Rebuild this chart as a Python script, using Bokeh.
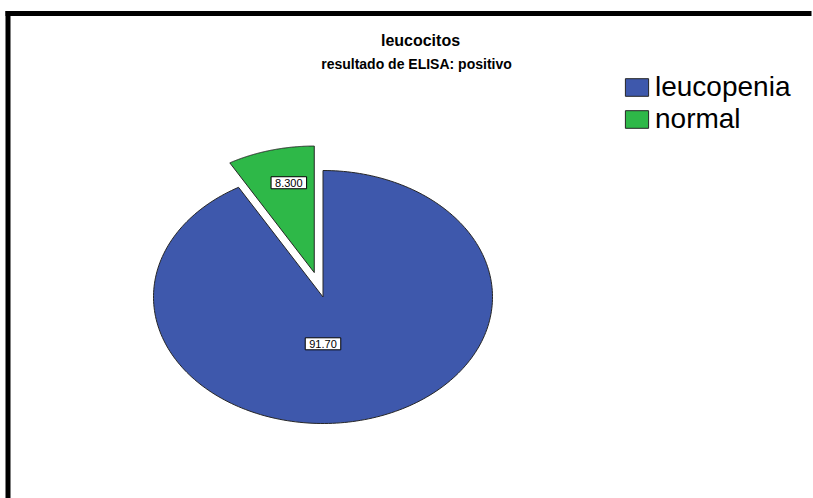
import numpy as np
from bokeh.plotting import figure
from bokeh.models import (ColumnDataSource, Range1d, Legend, LegendItem, Label)
from bokeh.core.properties import value
from bokeh.embed import file_html
from bokeh.resources import INLINE

# ---------------- data ----------------
categories = ["leucopenia", "normal"]
percents = [91.70, 8.30]
value_labels = ["91.70", "8.300"]
colors = ["#3E58AC", "#2EB848"]
explode = [0.0, 0.2]

title_text = "leucocitos"
subtitle_text = "resultado de ELISA: positivo"

# ---------------- layout ----------------
W, H = 813, 498
CX, CY = 322.5, 296.5      # pie centre (px from top-left)
RX, RY = 169.5, 126.5      # pie radii (px) -> elliptical pie
# label offsets relative to each slice apex, in pie-radius units
label_dx = [0.0, -0.15]
label_dy = [-0.37, 0.71]


def px_x(px):
    return (px - CX) / RX


def px_y(py):
    return (CY - py) / RY


x_range = Range1d(px_x(0), px_x(W))
y_range = Range1d(px_y(H), px_y(0))

p = figure(width=W, height=H, x_range=x_range, y_range=y_range,
           output_backend="svg", toolbar_location=None,
           x_axis_location=None, y_axis_location=None,
           min_border=0, background_fill_color="white",
           border_fill_color="white")
p.grid.visible = False
p.outline_line_color = None

# ---------------- frame border (top + left only) ----------------
p.segment(x0=[px_x(5), px_x(7.5)], y0=[px_y(13), px_y(10.5)],
          x1=[px_x(W - 2), px_x(7.5)], y1=[px_y(13), px_y(H)],
          line_color="black", line_width=5, line_cap="butt")

# ---------------- slices ----------------
total = sum(percents)
start = 90.0
xs, ys, lx, ly = [], [], [], []
for i, (v, e) in enumerate(zip(percents, explode)):
    sweep = 360.0 * v / total
    a0, a1 = start, start - sweep
    mid = np.radians((a0 + a1) / 2)
    ox, oy = e * np.cos(mid), e * np.sin(mid)
    t = np.radians(np.linspace(a0, a1, 240))
    xs.append(list(np.concatenate([[ox], ox + np.cos(t), [ox]])))
    ys.append(list(np.concatenate([[oy], oy + np.sin(t), [oy]])))
    lx.append(ox + label_dx[i])
    ly.append(oy + label_dy[i])
    start = a1

src = ColumnDataSource(dict(xs=xs, ys=ys, color=colors, cat=categories))
r = p.patches("xs", "ys", source=src, fill_color="color",
              line_color="#262626", line_width=1)

lsrc = ColumnDataSource(dict(x=lx, y=ly, text=value_labels))
p.text(x="x", y="y", text="text", source=lsrc,
       text_align="center", text_baseline="middle",
       text_font=value("Liberation Sans"), text_font_size="11px",
       text_color="black",
       background_fill_color="white",
       border_line_color="black", border_line_width=1,
       padding=dict(left=4, right=4, top=2, bottom=2))

# ---------------- titles ----------------
p.add_layout(Label(x=420, y=H - 40, x_units="screen", y_units="screen",
                   text=title_text, text_align="center",
                   text_baseline="alphabetic", text_font="Liberation Sans",
                   text_font_style="bold", text_font_size="16px",
                   text_color="black"))
p.add_layout(Label(x=416, y=H - 63, x_units="screen", y_units="screen",
                   text=subtitle_text, text_align="center",
                   text_baseline="alphabetic", text_font="Liberation Sans",
                   text_font_style="bold", text_font_size="14px",
                   text_color="black"))

# ---------------- legend ----------------
items = [LegendItem(label=c, renderers=[r], index=i)
         for i, c in enumerate(categories)]
legend = Legend(items=items, location=(622, 363),
                glyph_width=29, glyph_height=22, label_height=22,
                label_standoff=4, spacing=-3, padding=0, margin=0,
                label_text_font="Liberation Sans",
                label_text_font_size="28px", label_text_color="black",
                border_line_color=None, background_fill_alpha=0)
p.add_layout(legend)

open("out.html", "w").write(file_html(p, INLINE))
